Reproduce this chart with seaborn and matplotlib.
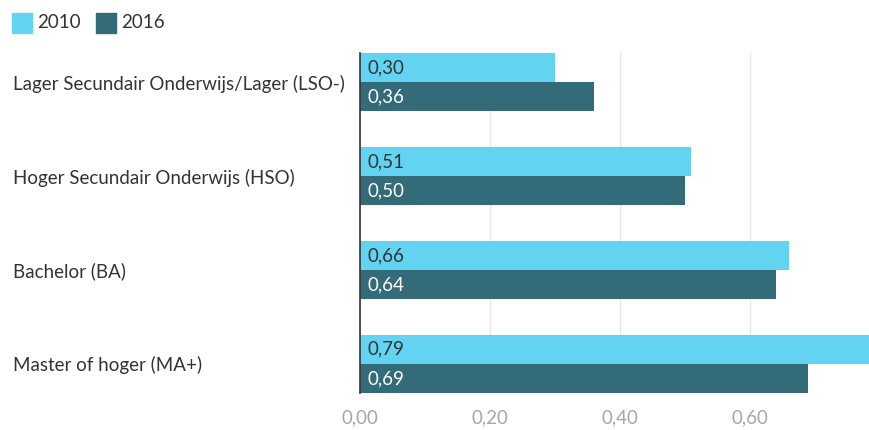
import matplotlib
matplotlib.use("Agg")
import matplotlib.pyplot as plt
from matplotlib.patches import Rectangle
import seaborn as sns
import pandas as pd

categories = [
    "Lager Secundair Onderwijs/Lager (LSO-)",
    "Hoger Secundair Onderwijs (HSO)",
    "Bachelor (BA)",
    "Master of hoger (MA+)",
]
years = ["2010", "2016"]
values_2010 = [0.30, 0.51, 0.66, 0.79]
values_2016 = [0.36, 0.50, 0.64, 0.69]
x_ticks = [0.0, 0.2, 0.4, 0.6]
colors = {"2010": "#62d3f0", "2016": "#336b79"}
label_colors = {"2010": "#333333", "2016": "#ffffff"}

df = pd.DataFrame({
    "categorie": categories * 2,
    "jaar": ["2010"] * len(categories) + ["2016"] * len(categories),
    "waarde": values_2010 + values_2016,
})

sns.set_theme(style="white")
plt.rcParams["font.family"] = ["Lato", "DejaVu Sans"]

fig = plt.figure(figsize=(8.7, 4.3), dpi=100)
ax = fig.add_axes([360 / 870, 1 - 393 / 430, 510 / 870, 340 / 430])

sns.barplot(data=df, y="categorie", x="waarde", hue="jaar", order=categories,
            hue_order=years, palette=colors, orient="h", width=0.62, gap=0,
            saturation=1, legend=False, linewidth=0, ax=ax, zorder=2)

ax.set_xlim(0, 510 / 650)
ax.set_ylim(3.31, -0.31)
ax.set_xticks(x_ticks)
ax.set_xticklabels([f"{t:.2f}".replace(".", ",") for t in x_ticks],
                   color="#a6a6a6", fontsize=13.5)
ax.tick_params(axis="x", length=0, pad=12)
ax.grid(axis="x", color="#e6e6e6", linewidth=1, zorder=0)
ax.set_axisbelow(True)
for side in ["top", "right", "bottom"]:
    ax.spines[side].set_visible(False)
ax.spines["left"].set_color("#333333")
ax.spines["left"].set_linewidth(1.2)
ax.spines["left"].set_zorder(5)

ax.set_yticks(range(len(categories)))
ax.set_yticklabels(categories, fontsize=13.5, color="#333333", ha="left")
ax.tick_params(axis="y", length=0, pad=347 * 72 / 100)
ax.set_xlabel("")
ax.set_ylabel("")

# value labels inside each bar
for container, year in zip(ax.containers, years):
    for bar in container:
        w = bar.get_width()
        ax.text(0.012, bar.get_y() + bar.get_height() / 2,
                f"{w:.2f}".replace(".", ","), va="center", ha="left",
                color=label_colors[year], fontsize=13.5, zorder=6)

# legend at the top left
legend_items = [(12, "2010"), (96, "2016")]
for x0, year in legend_items:
    fig.patches.append(Rectangle((x0 / 870, 1 - 33 / 430), 20 / 870, 20 / 430,
                                 transform=fig.transFigure,
                                 color=colors[year]))
    fig.text((x0 + 25) / 870, 1 - 23 / 430, year, fontsize=13.5,
             color="#333333", va="center", ha="left")

fig.savefig("out.png", dpi=100)
